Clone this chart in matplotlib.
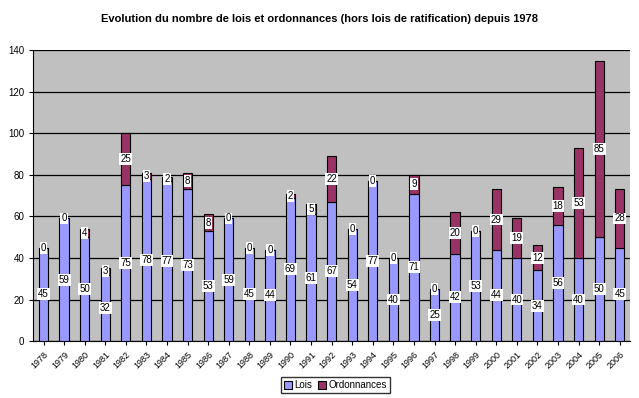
import numpy as np
import matplotlib
matplotlib.use('Agg')
import matplotlib.pyplot as plt

plt.rcParams['font.family'] = ['Liberation Sans', 'DejaVu Sans']

# données
annees = [str(a) for a in range(1978, 2007)]
lois = [45, 59, 50, 32, 75, 78, 77, 73, 53, 59, 45, 44, 69, 61, 67,
        54, 77, 40, 71, 25, 42, 53, 44, 40, 34, 56, 40, 50, 45]
ordonnances = [0, 0, 4, 3, 25, 3, 2, 8, 8, 0, 0, 0, 2, 5, 22,
               0, 0, 0, 9, 0, 20, 0, 29, 19, 12, 18, 53, 85, 28]

x = np.arange(len(annees))
larg = 0.45

fig = plt.figure(figsize=(6.39, 3.98), dpi=100)
ax = fig.add_axes([0.052, 0.143, 0.934, 0.731])
ax.set_facecolor('#C0C0C0')

b1 = ax.bar(x, lois, larg, color='#9999FF', edgecolor='black', linewidth=0.8,
            label='Lois', zorder=3)
b2 = ax.bar(x, ordonnances, larg, bottom=lois, color='#993366', edgecolor='black',
            linewidth=0.8, label='Ordonnances', zorder=3)

boite = dict(boxstyle='square,pad=0.1', fc='white', ec='none')
for i in range(len(x)):
    ax.text(x[i], lois[i] / 2, str(lois[i]), ha='center', va='center',
            fontsize=7, bbox=boite, zorder=5)
    ax.text(x[i], lois[i] + ordonnances[i] / 2, str(ordonnances[i]), ha='center',
            va='center', fontsize=7, bbox=boite, zorder=5)

ax.set_xlim(-0.5, len(x) - 0.5)
ax.set_ylim(0, 140)
ax.set_yticks(range(0, 141, 20))
ax.yaxis.grid(True, color='black', linewidth=0.9, zorder=1)
ax.set_xticks(x)
ax.set_xticklabels(annees, rotation=45, ha='right', rotation_mode='anchor', fontsize=6.5)
ax.tick_params(axis='y', labelsize=7, length=3)
ax.tick_params(axis='x', length=3)
for s in ['top', 'right']:
    ax.spines[s].set_visible(False)
for s in ['left', 'bottom']:
    ax.spines[s].set_color('black')

fig.suptitle('Evolution du nombre de lois et ordonnances (hors lois de ratification) depuis 1978',
             fontsize=8, fontweight='bold', y=0.965)

fig.legend(handles=[b1, b2], loc='center', bbox_to_anchor=(0.525, 0.032), ncol=2,
           fontsize=7, frameon=True, fancybox=False, edgecolor='black',
           handlelength=0.8, handleheight=0.8, handletextpad=0.3, columnspacing=0.6,
           borderpad=0.3)

fig.savefig('out.png', dpi=100)
